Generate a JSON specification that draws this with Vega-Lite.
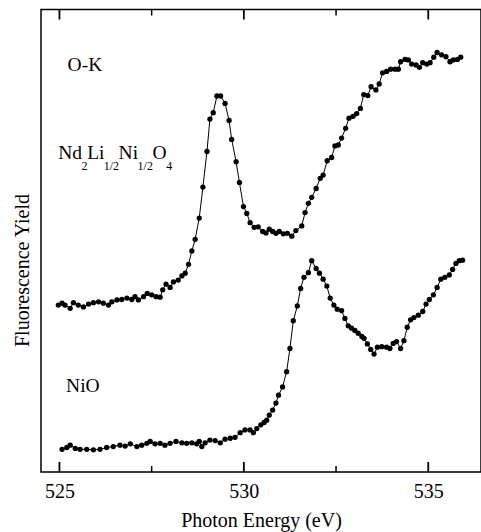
{
  "$schema": "https://vega.github.io/schema/vega-lite/v6.json",
  "width": 440,
  "height": 462.5,
  "autosize": "none",
  "padding": {"left": 41, "top": 9.5, "right": 0, "bottom": 60},
  "background": "white",
  "config": {
    "view": {"stroke": "black", "strokeWidth": 1.5},
    "font": "Liberation Serif",
    "axis": {
      "grid": false, "domain": false, "ticks": false,
      "labelColor": "black", "titleColor": "black",
      "labelFont": "Liberation Serif", "titleFont": "Liberation Serif",
      "labelFontSize": 20, "titleFontSize": 20, "titleFontWeight": "normal"
    },
    "text": {"font": "Liberation Serif"}
  },
  "datasets": {
    "major": [{"energy": 525}, {"energy": 530}, {"energy": 535}],
    "minor": [{"energy": 527.5}, {"energy": 532.5}]
  },
  "layer": [
    {
      "data": {"values": [
        {"series": "Nd", "energy": 524.97, "fy": 3.61},
        {"series": "Nd", "energy": 525.07, "fy": 3.65},
        {"series": "Nd", "energy": 525.15, "fy": 3.61},
        {"series": "Nd", "energy": 525.29, "fy": 3.54},
        {"series": "Nd", "energy": 525.38, "fy": 3.66},
        {"series": "Nd", "energy": 525.51, "fy": 3.61},
        {"series": "Nd", "energy": 525.65, "fy": 3.57},
        {"series": "Nd", "energy": 525.79, "fy": 3.63},
        {"series": "Nd", "energy": 525.92, "fy": 3.66},
        {"series": "Nd", "energy": 526.06, "fy": 3.68},
        {"series": "Nd", "energy": 526.19, "fy": 3.65},
        {"series": "Nd", "energy": 526.33, "fy": 3.61},
        {"series": "Nd", "energy": 526.42, "fy": 3.68},
        {"series": "Nd", "energy": 526.56, "fy": 3.72},
        {"series": "Nd", "energy": 526.69, "fy": 3.73},
        {"series": "Nd", "energy": 526.83, "fy": 3.76},
        {"series": "Nd", "energy": 526.96, "fy": 3.73},
        {"series": "Nd", "energy": 527.05, "fy": 3.79},
        {"series": "Nd", "energy": 527.14, "fy": 3.72},
        {"series": "Nd", "energy": 527.28, "fy": 3.79},
        {"series": "Nd", "energy": 527.38, "fy": 3.86},
        {"series": "Nd", "energy": 527.50, "fy": 3.83},
        {"series": "Nd", "energy": 527.62, "fy": 3.79},
        {"series": "Nd", "energy": 527.73, "fy": 3.78},
        {"series": "Nd", "energy": 527.80, "fy": 3.94},
        {"series": "Nd", "energy": 527.89, "fy": 4.06},
        {"series": "Nd", "energy": 528.00, "fy": 3.99},
        {"series": "Nd", "energy": 528.09, "fy": 4.11},
        {"series": "Nd", "energy": 528.22, "fy": 4.15},
        {"series": "Nd", "energy": 528.32, "fy": 4.24},
        {"series": "Nd", "energy": 528.41, "fy": 4.30},
        {"series": "Nd", "energy": 528.50, "fy": 4.49},
        {"series": "Nd", "energy": 528.59, "fy": 4.78},
        {"series": "Nd", "energy": 528.68, "fy": 5.03},
        {"series": "Nd", "energy": 528.79, "fy": 5.49},
        {"series": "Nd", "energy": 528.89, "fy": 6.16},
        {"series": "Nd", "energy": 529.00, "fy": 6.93},
        {"series": "Nd", "energy": 529.08, "fy": 7.63},
        {"series": "Nd", "energy": 529.17, "fy": 7.77},
        {"series": "Nd", "energy": 529.27, "fy": 8.13},
        {"series": "Nd", "energy": 529.37, "fy": 8.13},
        {"series": "Nd", "energy": 529.49, "fy": 7.97},
        {"series": "Nd", "energy": 529.60, "fy": 7.60},
        {"series": "Nd", "energy": 529.67, "fy": 7.19},
        {"series": "Nd", "energy": 529.79, "fy": 6.71},
        {"series": "Nd", "energy": 529.88, "fy": 6.26},
        {"series": "Nd", "energy": 529.99, "fy": 5.74},
        {"series": "Nd", "energy": 530.08, "fy": 5.59},
        {"series": "Nd", "energy": 530.17, "fy": 5.39},
        {"series": "Nd", "energy": 530.28, "fy": 5.29},
        {"series": "Nd", "energy": 530.39, "fy": 5.30},
        {"series": "Nd", "energy": 530.51, "fy": 5.20},
        {"series": "Nd", "energy": 530.60, "fy": 5.17},
        {"series": "Nd", "energy": 530.69, "fy": 5.25},
        {"series": "Nd", "energy": 530.78, "fy": 5.20},
        {"series": "Nd", "energy": 530.87, "fy": 5.16},
        {"series": "Nd", "energy": 530.96, "fy": 5.20},
        {"series": "Nd", "energy": 531.07, "fy": 5.15},
        {"series": "Nd", "energy": 531.18, "fy": 5.16},
        {"series": "Nd", "energy": 531.30, "fy": 5.10},
        {"series": "Nd", "energy": 531.41, "fy": 5.22},
        {"series": "Nd", "energy": 531.57, "fy": 5.32},
        {"series": "Nd", "energy": 531.66, "fy": 5.61},
        {"series": "Nd", "energy": 531.75, "fy": 5.81},
        {"series": "Nd", "energy": 531.84, "fy": 5.94},
        {"series": "Nd", "energy": 531.96, "fy": 6.13},
        {"series": "Nd", "energy": 532.07, "fy": 6.35},
        {"series": "Nd", "energy": 532.15, "fy": 6.42},
        {"series": "Nd", "energy": 532.26, "fy": 6.73},
        {"series": "Nd", "energy": 532.38, "fy": 6.80},
        {"series": "Nd", "energy": 532.47, "fy": 7.05},
        {"series": "Nd", "energy": 532.56, "fy": 7.07},
        {"series": "Nd", "energy": 532.65, "fy": 7.22},
        {"series": "Nd", "energy": 532.76, "fy": 7.43},
        {"series": "Nd", "energy": 532.85, "fy": 7.65},
        {"series": "Nd", "energy": 532.96, "fy": 7.69},
        {"series": "Nd", "energy": 533.06, "fy": 7.75},
        {"series": "Nd", "energy": 533.16, "fy": 7.86},
        {"series": "Nd", "energy": 533.25, "fy": 8.16},
        {"series": "Nd", "energy": 533.36, "fy": 8.14},
        {"series": "Nd", "energy": 533.45, "fy": 8.33},
        {"series": "Nd", "energy": 533.58, "fy": 8.26},
        {"series": "Nd", "energy": 533.67, "fy": 8.39},
        {"series": "Nd", "energy": 533.76, "fy": 8.63},
        {"series": "Nd", "energy": 533.87, "fy": 8.66},
        {"series": "Nd", "energy": 533.98, "fy": 8.71},
        {"series": "Nd", "energy": 534.10, "fy": 8.71},
        {"series": "Nd", "energy": 534.19, "fy": 8.71},
        {"series": "Nd", "energy": 534.25, "fy": 8.87},
        {"series": "Nd", "energy": 534.37, "fy": 8.92},
        {"series": "Nd", "energy": 534.46, "fy": 8.91},
        {"series": "Nd", "energy": 534.55, "fy": 8.82},
        {"series": "Nd", "energy": 534.67, "fy": 8.80},
        {"series": "Nd", "energy": 534.76, "fy": 8.75},
        {"series": "Nd", "energy": 534.85, "fy": 8.85},
        {"series": "Nd", "energy": 534.96, "fy": 8.82},
        {"series": "Nd", "energy": 535.05, "fy": 8.85},
        {"series": "Nd", "energy": 535.15, "fy": 8.97},
        {"series": "Nd", "energy": 535.24, "fy": 9.07},
        {"series": "Nd", "energy": 535.36, "fy": 9.02},
        {"series": "Nd", "energy": 535.48, "fy": 8.98},
        {"series": "Nd", "energy": 535.59, "fy": 8.87},
        {"series": "Nd", "energy": 535.68, "fy": 8.91},
        {"series": "Nd", "energy": 535.79, "fy": 8.92},
        {"series": "Nd", "energy": 535.88, "fy": 8.97},
        {"series": "NiO", "energy": 525.07, "fy": 0.49},
        {"series": "NiO", "energy": 525.20, "fy": 0.53},
        {"series": "NiO", "energy": 525.29, "fy": 0.58},
        {"series": "NiO", "energy": 525.43, "fy": 0.51},
        {"series": "NiO", "energy": 525.56, "fy": 0.49},
        {"series": "NiO", "energy": 525.74, "fy": 0.49},
        {"series": "NiO", "energy": 525.92, "fy": 0.48},
        {"series": "NiO", "energy": 526.10, "fy": 0.49},
        {"series": "NiO", "energy": 526.28, "fy": 0.53},
        {"series": "NiO", "energy": 526.46, "fy": 0.55},
        {"series": "NiO", "energy": 526.64, "fy": 0.58},
        {"series": "NiO", "energy": 526.78, "fy": 0.56},
        {"series": "NiO", "energy": 526.92, "fy": 0.61},
        {"series": "NiO", "energy": 527.10, "fy": 0.55},
        {"series": "NiO", "energy": 527.23, "fy": 0.58},
        {"series": "NiO", "energy": 527.37, "fy": 0.62},
        {"series": "NiO", "energy": 527.46, "fy": 0.66},
        {"series": "NiO", "energy": 527.59, "fy": 0.61},
        {"series": "NiO", "energy": 527.73, "fy": 0.62},
        {"series": "NiO", "energy": 527.86, "fy": 0.58},
        {"series": "NiO", "energy": 528.00, "fy": 0.62},
        {"series": "NiO", "energy": 528.16, "fy": 0.66},
        {"series": "NiO", "energy": 528.32, "fy": 0.63},
        {"series": "NiO", "energy": 528.45, "fy": 0.62},
        {"series": "NiO", "energy": 528.59, "fy": 0.63},
        {"series": "NiO", "energy": 528.72, "fy": 0.61},
        {"series": "NiO", "energy": 528.79, "fy": 0.66},
        {"series": "NiO", "energy": 528.86, "fy": 0.55},
        {"series": "NiO", "energy": 528.95, "fy": 0.63},
        {"series": "NiO", "energy": 529.08, "fy": 0.69},
        {"series": "NiO", "energy": 529.22, "fy": 0.68},
        {"series": "NiO", "energy": 529.36, "fy": 0.63},
        {"series": "NiO", "energy": 529.49, "fy": 0.71},
        {"series": "NiO", "energy": 529.63, "fy": 0.73},
        {"series": "NiO", "energy": 529.76, "fy": 0.75},
        {"series": "NiO", "energy": 529.90, "fy": 0.85},
        {"series": "NiO", "energy": 530.03, "fy": 0.91},
        {"series": "NiO", "energy": 530.17, "fy": 0.91},
        {"series": "NiO", "energy": 530.26, "fy": 0.85},
        {"series": "NiO", "energy": 530.35, "fy": 0.94},
        {"series": "NiO", "energy": 530.46, "fy": 1.02},
        {"series": "NiO", "energy": 530.55, "fy": 1.07},
        {"series": "NiO", "energy": 530.62, "fy": 1.12},
        {"series": "NiO", "energy": 530.69, "fy": 1.23},
        {"series": "NiO", "energy": 530.78, "fy": 1.34},
        {"series": "NiO", "energy": 530.87, "fy": 1.49},
        {"series": "NiO", "energy": 530.94, "fy": 1.66},
        {"series": "NiO", "energy": 531.05, "fy": 1.84},
        {"series": "NiO", "energy": 531.16, "fy": 2.17},
        {"series": "NiO", "energy": 531.25, "fy": 2.67},
        {"series": "NiO", "energy": 531.34, "fy": 3.27},
        {"series": "NiO", "energy": 531.45, "fy": 3.59},
        {"series": "NiO", "energy": 531.54, "fy": 3.97},
        {"series": "NiO", "energy": 531.63, "fy": 4.21},
        {"series": "NiO", "energy": 531.75, "fy": 4.31},
        {"series": "NiO", "energy": 531.84, "fy": 4.57},
        {"series": "NiO", "energy": 531.96, "fy": 4.40},
        {"series": "NiO", "energy": 532.05, "fy": 4.30},
        {"series": "NiO", "energy": 532.15, "fy": 4.17},
        {"series": "NiO", "energy": 532.25, "fy": 4.02},
        {"series": "NiO", "energy": 532.34, "fy": 3.76},
        {"series": "NiO", "energy": 532.44, "fy": 3.61},
        {"series": "NiO", "energy": 532.53, "fy": 3.52},
        {"series": "NiO", "energy": 532.65, "fy": 3.49},
        {"series": "NiO", "energy": 532.74, "fy": 3.32},
        {"series": "NiO", "energy": 532.83, "fy": 3.16},
        {"series": "NiO", "energy": 532.92, "fy": 3.11},
        {"series": "NiO", "energy": 533.01, "fy": 3.06},
        {"series": "NiO", "energy": 533.10, "fy": 3.00},
        {"series": "NiO", "energy": 533.20, "fy": 2.93},
        {"series": "NiO", "energy": 533.26, "fy": 2.89},
        {"series": "NiO", "energy": 533.35, "fy": 2.77},
        {"series": "NiO", "energy": 533.44, "fy": 2.65},
        {"series": "NiO", "energy": 533.53, "fy": 2.55},
        {"series": "NiO", "energy": 533.62, "fy": 2.70},
        {"series": "NiO", "energy": 533.74, "fy": 2.71},
        {"series": "NiO", "energy": 533.87, "fy": 2.70},
        {"series": "NiO", "energy": 533.96, "fy": 2.67},
        {"series": "NiO", "energy": 534.05, "fy": 2.78},
        {"series": "NiO", "energy": 534.14, "fy": 2.82},
        {"series": "NiO", "energy": 534.25, "fy": 2.67},
        {"series": "NiO", "energy": 534.34, "fy": 2.84},
        {"series": "NiO", "energy": 534.43, "fy": 3.13},
        {"series": "NiO", "energy": 534.52, "fy": 3.29},
        {"series": "NiO", "energy": 534.61, "fy": 3.34},
        {"series": "NiO", "energy": 534.73, "fy": 3.39},
        {"series": "NiO", "energy": 534.85, "fy": 3.47},
        {"series": "NiO", "energy": 534.94, "fy": 3.63},
        {"series": "NiO", "energy": 535.03, "fy": 3.73},
        {"series": "NiO", "energy": 535.14, "fy": 3.83},
        {"series": "NiO", "energy": 535.24, "fy": 3.99},
        {"series": "NiO", "energy": 535.34, "fy": 4.17},
        {"series": "NiO", "energy": 535.45, "fy": 4.21},
        {"series": "NiO", "energy": 535.57, "fy": 4.26},
        {"series": "NiO", "energy": 535.66, "fy": 4.38},
        {"series": "NiO", "energy": 535.75, "fy": 4.51},
        {"series": "NiO", "energy": 535.84, "fy": 4.57},
        {"series": "NiO", "energy": 535.93, "fy": 4.58}
      ]},
      "mark": {"type": "line", "color": "black", "strokeWidth": 1,
               "point": {"filled": true, "color": "black", "size": 28, "opacity": 1}},
      "encoding": {
        "x": {"field": "energy", "type": "quantitative",
              "scale": {"domain": [524.5, 536.43], "nice": false, "zero": false},
              "axis": {"orient": "bottom", "values": [525, 530, 535], "ticks": false,
                       "labelBaseline": "alphabetic", "labelPadding": 25,
                       "title": "Photon Energy (eV)", "titleBaseline": "alphabetic", "titleY": 54.5}},
        "y": {"field": "fy", "type": "quantitative",
              "scale": {"domain": [0, 10], "nice": false, "zero": false},
              "axis": {"ticks": false, "labels": false, "title": "Fluorescence Yield",
                       "titleAngle": -90, "titleBaseline": "alphabetic", "titleX": -13, "titleY": 260.5, "titleAlign": "center"}},
        "detail": {"field": "series"}
      }
    },
    {
      "data": {"name": "major"},
      "mark": {"type": "tick", "orient": "vertical", "color": "black", "size": 10, "thickness": 1.8, "yOffset": -5, "opacity": 1},
      "encoding": {
        "x": {"field": "energy", "type": "quantitative"},
        "y": {"datum": 0, "type": "quantitative"}
      }
    },
    {
      "data": {"name": "major"},
      "mark": {"type": "tick", "orient": "vertical", "color": "black", "size": 10, "thickness": 1.8, "yOffset": 5, "opacity": 1},
      "encoding": {
        "x": {"field": "energy", "type": "quantitative"},
        "y": {"datum": 10, "type": "quantitative"}
      }
    },
    {
      "data": {"name": "minor"},
      "mark": {"type": "tick", "orient": "vertical", "color": "black", "size": 6, "thickness": 1.5, "yOffset": -3, "opacity": 1},
      "encoding": {
        "x": {"field": "energy", "type": "quantitative"},
        "y": {"datum": 0, "type": "quantitative"}
      }
    },
    {
      "data": {"name": "minor"},
      "mark": {"type": "tick", "orient": "vertical", "color": "black", "size": 6, "thickness": 1.5, "yOffset": 3, "opacity": 1},
      "encoding": {
        "x": {"field": "energy", "type": "quantitative"},
        "y": {"datum": 10, "type": "quantitative"}
      }
    },
    {
      "data": {"values": [
        {"energy": 525.22, "fy": 8.68, "t": "O-K"},
        {"energy": 525.18, "fy": 1.74, "t": "NiO"},
        {"energy": 524.965, "fy": 6.76, "t": "Nd"},
        {"energy": 525.751, "fy": 6.76, "t": "Li"},
        {"energy": 526.604, "fy": 6.76, "t": "Ni"},
        {"energy": 527.526, "fy": 6.76, "t": "O"}
      ]},
      "mark": {"type": "text", "align": "left", "baseline": "alphabetic", "fontSize": 19.5, "font": "Liberation Serif", "color": "black"},
      "encoding": {
        "x": {"field": "energy", "type": "quantitative"},
        "y": {"field": "fy", "type": "quantitative"},
        "text": {"field": "t"}
      }
    },
    {
      "data": {"values": [
        {"energy": 525.596, "fy": 6.54, "t": "2"},
        {"energy": 526.201, "fy": 6.54, "t": "1/2"},
        {"energy": 527.119, "fy": 6.54, "t": "1/2"},
        {"energy": 527.897, "fy": 6.54, "t": "4"}
      ]},
      "mark": {"type": "text", "align": "left", "baseline": "alphabetic", "fontSize": 12, "font": "Liberation Serif", "color": "black"},
      "encoding": {
        "x": {"field": "energy", "type": "quantitative"},
        "y": {"field": "fy", "type": "quantitative"},
        "text": {"field": "t"}
      }
    }
  ]
}
